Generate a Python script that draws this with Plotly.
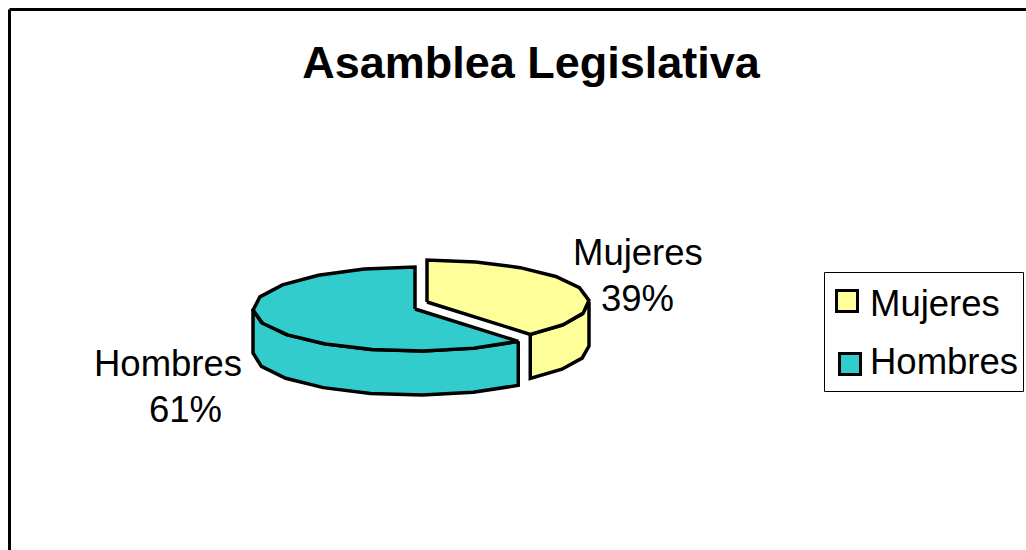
import numpy as np
import plotly.graph_objects as go

title = "Asamblea Legislativa"
categories = ["Mujeres", "Hombres"]
values = [39, 61]
colors = ["#FFFF99", "#33CCCC"]

FONT = "Liberation Sans, Arial, sans-serif"
W, H = 1026, 550
RX, RY, DEPTH = 162, 42, 44
CENTERS = {"Mujeres": (427, 302), "Hombres": (415, 309)}
STEP = 18
LW = 3.5


def arc(c, t0, t1, dy=0):
    n = max(int(round(abs(t1 - t0) / STEP)), 1)
    t = np.radians(np.linspace(t0, t1, n + 1))
    return c[0] + RX * np.sin(t), c[1] - RY * np.cos(t) + dy


fig = go.Figure()
total = sum(values)
start = 0.0
for name, val, col in zip(categories, values, colors):
    end = start + 360 * val / total
    c = CENTERS[name]
    # visible rim: the part of the slice facing the viewer (90..270 deg)
    a, b = max(start, 90), min(end, 270)
    x1, y1 = arc(c, a, b)
    x2, y2 = arc(c, b, a, DEPTH)
    fig.add_trace(go.Scatter(
        x=np.r_[x1, x2, x1[0]], y=np.r_[y1, y2, y1[0]],
        mode="lines", fill="toself", fillcolor=col,
        line=dict(color="black", width=LW), hoverinfo="skip", showlegend=False))
    # top face
    x3, y3 = arc(c, start, end)
    fig.add_trace(go.Scatter(
        x=np.r_[c[0], x3, c[0]], y=np.r_[c[1], y3, c[1]],
        mode="lines", fill="toself", fillcolor=col, name=name,
        line=dict(color="black", width=LW), hoverinfo="name", showlegend=False))
    start = end

# legend swatches
legend_y = [301, 364]
legend_x = [847, 850]
for name, col, lx, ly in zip(categories, colors, legend_x, legend_y):
    fig.add_trace(go.Scatter(
        x=[lx], y=[ly], mode="markers", hoverinfo="skip", showlegend=False,
        marker=dict(symbol="square", size=21, color=col,
                    line=dict(color="black", width=3))))

shapes = [
    dict(type="line", x0=9.5, x1=W + 5, y0=9.5, y1=9.5, line=dict(color="black", width=3)),
    dict(type="line", x0=9.5, x1=9.5, y0=9.5, y1=H + 5, line=dict(color="black", width=3)),
    dict(type="rect", x0=824.5, x1=1023.5, y0=272.5, y1=391.5, line=dict(color="black", width=1),
         layer="below"),
]

ann = [
    dict(x=638, y=252, text=categories[0]),
    dict(x=637, y=298, text=f"{values[0]}%"),
    dict(x=168, y=363, text=categories[1]),
    dict(x=185, y=409, text=f"{values[1]}%"),
    dict(x=868, y=303, text=categories[0], xanchor="left"),
    dict(x=868, y=361, text=categories[1], xanchor="left"),
]
for a in ann:
    a.update(xref="x", yref="y", showarrow=False, font=dict(family=FONT, size=36.5, color="black"))
    a.setdefault("xanchor", "center")
    a.setdefault("yanchor", "middle")

fig.update_layout(
    width=W, height=H, margin=dict(l=0, r=0, t=0, b=0),
    paper_bgcolor="white", plot_bgcolor="white", showlegend=False,
    title=dict(text=f"<b>{title}</b>", x=531 / W, y=1 - 62 / H, xanchor="center", yanchor="middle",
               font=dict(family=FONT, size=45, color="black")),
    xaxis=dict(range=[0, W], visible=False, fixedrange=True),
    yaxis=dict(range=[H, 0], visible=False, fixedrange=True),
    shapes=shapes, annotations=ann,
)

fig.write_html("out.html", config=dict(displayModeBar=False),
               post_script="document.body.style.margin='0';document.body.style.overflow='hidden';")
